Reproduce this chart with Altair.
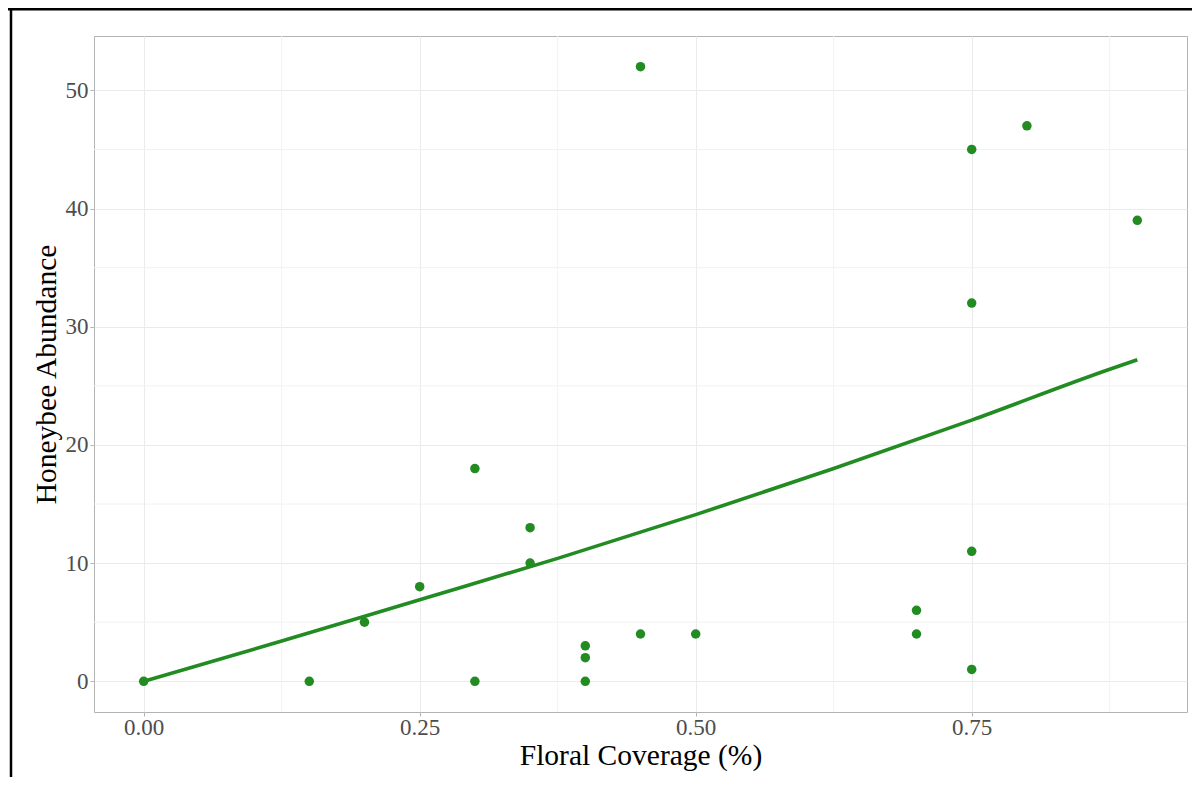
import altair as alt
import pandas as pd

# Observed points
coverage = [0.00, 0.15, 0.20, 0.25, 0.30, 0.30, 0.35, 0.35, 0.40, 0.40, 0.40,
            0.45, 0.45, 0.50, 0.70, 0.70, 0.75, 0.75, 0.75, 0.75, 0.80, 0.90]
abundance = [0, 0, 5, 8, 18, 0, 13, 10, 3, 2, 0,
             52, 4, 4, 6, 4, 45, 32, 11, 1, 47, 39]

# Fitted curve
fit_x = [0.0, 0.125, 0.25, 0.375, 0.5, 0.625, 0.75, 0.875, 0.9]
fit_y = [0.0, 3.4, 6.9, 10.4, 14.1, 18.0, 22.1, 26.4, 27.2]

# Axis ticks / grid
x_major = [0.0, 0.25, 0.5, 0.75]
x_minor = [0.125, 0.375, 0.625, 0.875]
y_major = [0, 10, 20, 30, 40, 50]
y_minor = [5, 15, 25, 35, 45]

GREEN = "#228B22"
FONT = "Liberation Serif"

pts = pd.DataFrame({"cov": coverage, "abund": abundance})
fit = pd.DataFrame({"cov": fit_x, "abund": fit_y})

xs = alt.Scale(domain=[-0.045, 0.945], nice=False, zero=False)
ys = alt.Scale(domain=[-2.6, 54.6], nice=False, zero=False)

x_axis = alt.Axis(values=x_major, format=".2f", title="Floral Coverage (%)",
                  grid=True, gridColor="#EBEBEB", gridWidth=1,
                  domain=False, ticks=True, tickSize=4, tickColor="#B3B3B3",
                  labelFont=FONT, labelFontSize=23, labelColor="#4D4D4D",
                  labelPadding=0, titleFont=FONT, titleFontSize=29.5,
                  titleFontWeight="normal", titleColor="#000000", titlePadding=2)
y_axis = alt.Axis(values=y_major, format="d", title="Honeybee Abundance",
                  grid=True, gridColor="#EBEBEB", gridWidth=1,
                  domain=False, ticks=True, tickSize=4, tickColor="#B3B3B3",
                  labelFont=FONT, labelFontSize=23, labelColor="#4D4D4D",
                  labelPadding=2, titleFont=FONT, titleFontSize=29.5,
                  titleFontWeight="normal", titleColor="#000000", titlePadding=4)

minor_x = alt.Chart(pd.DataFrame({"cov": x_minor})).mark_rule(
    color="#F2F2F2", strokeWidth=1).encode(x=alt.X("cov:Q", scale=xs, axis=x_axis))
minor_y = alt.Chart(pd.DataFrame({"abund": y_minor})).mark_rule(
    color="#F2F2F2", strokeWidth=1).encode(y=alt.Y("abund:Q", scale=ys, axis=y_axis))

line = alt.Chart(fit).mark_line(color=GREEN, strokeWidth=3.6, interpolate="monotone").encode(
    x=alt.X("cov:Q", scale=xs, axis=x_axis),
    y=alt.Y("abund:Q", scale=ys, axis=y_axis),
)
points = alt.Chart(pts).mark_circle(color=GREEN, size=90, opacity=1).encode(
    x=alt.X("cov:Q", scale=xs, axis=x_axis),
    y=alt.Y("abund:Q", scale=ys, axis=y_axis),
)

# screenshot frame (top and left black edges)
one = alt.Data(values=[{"a": 1}])
frame_top = alt.Chart(one).mark_rule(color="#000000", strokeWidth=3).encode(
    x=alt.value(-86), x2=alt.value(1100), y=alt.value(-27))
frame_left = alt.Chart(one).mark_rule(color="#000000", strokeWidth=2.5).encode(
    x=alt.value(-83), y=alt.value(-28), y2=alt.value(745))

chart = alt.layer(minor_x, minor_y, line, points, frame_top, frame_left).properties(
    width=1093, height=676,
    autosize=alt.AutoSizeParams(type="none"),
    padding={"left": 86, "top": 28, "right": 5, "bottom": 65},
    background="#FFFFFF",
).configure_view(stroke="#B3B3B3", strokeWidth=1)

chart.save("out.html", embed_options={"renderer": "svg", "actions": False})
